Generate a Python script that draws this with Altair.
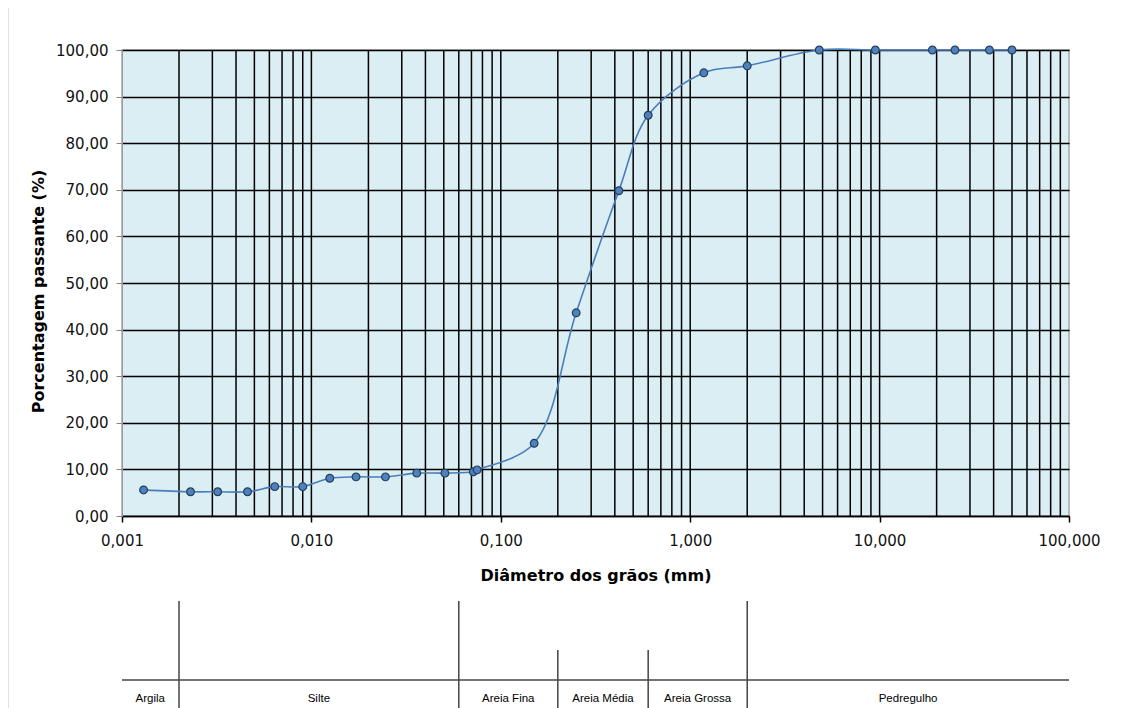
import altair as alt
import pandas as pd

# Grain size distribution data
diam = [0.0013, 0.0023, 0.0032, 0.0046, 0.0064, 0.0090, 0.0125, 0.0172, 0.0246,
        0.0360, 0.0507, 0.0716, 0.0750, 0.150, 0.250, 0.420, 0.600, 1.18, 2.00,
        4.80, 9.50, 19.0, 25.0, 38.0, 50.0]
passing = [5.6, 5.2, 5.2, 5.2, 6.3, 6.3, 8.1, 8.4, 8.4, 9.2, 9.2, 9.5, 9.9,
           15.6, 43.6, 69.8, 86.0, 95.1, 96.6, 100.0, 100.0, 100.0, 100.0, 100.0, 100.0]

# Log-grid positions
grid_x = [0.002, 0.003, 0.004, 0.005, 0.006, 0.007, 0.008, 0.009,
          0.01, 0.02, 0.03, 0.04, 0.05, 0.06, 0.07, 0.08, 0.09,
          0.1, 0.2, 0.3, 0.4, 0.5, 0.6, 0.7, 0.8, 0.9,
          1, 2, 3, 4, 5, 6, 7, 8, 9,
          10, 20, 30, 40, 50, 60, 70, 80, 90]
decades = [0.001, 0.01, 0.1, 1, 10, 100]
y_ticks = [0, 10, 20, 30, 40, 50, 60, 70, 80, 90, 100]

# Soil classification bar
class_major = [0.002, 0.06, 2.0]
class_minor = [0.2, 0.6]
class_names = ["Argila", "Silte", "Areia Fina", "Areia Média", "Areia Grossa", "Pedregulho"]
class_pos = [0.00141, 0.01095, 0.1095, 0.3464, 1.095, 14.14]

df = pd.DataFrame({"d": diam, "p": passing})
gdf = pd.DataFrame({"g": grid_x})
majdf = pd.DataFrame({"d": class_major})
mindf = pd.DataFrame({"d": class_minor})
labdf = pd.DataFrame({"d": class_pos, "name": class_names})
hdf = pd.DataFrame({"a": [0.001], "b": [100.0]})
bdf = pd.DataFrame({"k": [0]})

FONT = "DejaVu Sans"

xscale = alt.Scale(type="log", domain=[0.001, 100], nice=False)
yscale = alt.Scale(domain=[0, 100], nice=False)

xaxis = alt.Axis(
    values=decades, title="Diâmetro dos grãos (mm)",
    labelExpr="replace(format(datum.value, '.3f'), '.', ',')",
    labelFlush=False,
    grid=False, tickSize=6, tickColor="#000", tickWidth=1.5,
    domainColor="#000", domainWidth=1.5,
    labelPadding=11, labelFontSize=15, labelFont=FONT, labelColor="#111",
    titleFont=FONT, titleFontSize=16, titleFontWeight="bold", titlePadding=19,
    titleColor="#000",
)
yaxis = alt.Axis(
    values=y_ticks, title="Porcentagem passante (%)",
    labelExpr="replace(format(datum.value, '.2f'), '.', ',')",
    grid=True, gridColor="#000", gridWidth=1.5, gridOpacity=1,
    tickSize=6, tickColor="#888", domainColor="#999",
    labelPadding=8, labelFontSize=15, labelFont=FONT, labelColor="#111",
    titleFont=FONT, titleFontSize=16, titleFontWeight="bold", titlePadding=9,
    titleY=241, titleColor="#000",
)

grid = alt.Chart(gdf).mark_rule(color="#000", strokeWidth=1.5).encode(
    x=alt.X("g:Q", scale=xscale, axis=xaxis)
)

line = alt.Chart(df).mark_line(
    interpolate="catmull-rom", color="#4A7EBB", strokeWidth=1.6
).encode(
    x=alt.X("d:Q", scale=xscale, axis=xaxis),
    y=alt.Y("p:Q", scale=yscale, axis=yaxis),
)

points = alt.Chart(df).mark_point(
    filled=True, fill="#4F81BD", stroke="#24405F", strokeWidth=1.2, size=60, opacity=1
).encode(
    x=alt.X("d:Q", scale=xscale, axis=xaxis),
    y=alt.Y("p:Q", scale=yscale, axis=yaxis),
)

# Classification bar below the chart (pixel offsets relative to the plot area)
major_rules = alt.Chart(majdf).mark_rule(color="#444", strokeWidth=1.5).encode(
    x=alt.X("d:Q", scale=xscale, axis=xaxis),
    y=alt.value(551), y2=alt.value(680),
)
minor_rules = alt.Chart(mindf).mark_rule(color="#444", strokeWidth=1.5).encode(
    x=alt.X("d:Q", scale=xscale, axis=xaxis),
    y=alt.value(600), y2=alt.value(680),
)
h_rule = alt.Chart(hdf).mark_rule(color="#444", strokeWidth=1.5).encode(
    x=alt.X("a:Q", scale=xscale, axis=xaxis),
    x2="b:Q",
    y=alt.value(630),
)
labels = alt.Chart(labdf).mark_text(
    font="Liberation Sans", fontSize=11.5, color="#000", baseline="middle", align="center"
).encode(
    x=alt.X("d:Q", scale=xscale, axis=xaxis),
    y=alt.value(649),
    text="name:N",
)

# Light chart-area border (top and left edges)
border_top = alt.Chart(bdf).mark_rule(color="#D9D9D9", strokeWidth=1.5).encode(
    x=alt.value(-114), x2=alt.value(1010), y=alt.value(-43)
)
border_left = alt.Chart(bdf).mark_rule(color="#D9D9D9", strokeWidth=1.5).encode(
    x=alt.value(-114), y=alt.value(-43), y2=alt.value(660)
)

chart = alt.layer(
    border_top, border_left, grid, line, points,
    major_rules, minor_rules, h_rule, labels
).properties(
    width=947, height=466,
    autosize=alt.AutoSizeParams(type="none"),
    padding={"left": 114, "top": 42, "right": 56, "bottom": 192},
    background="white",
).configure_view(
    fill="#DAEEF3", stroke="#A6A6A6", strokeWidth=1.5
)

chart.save("out.html", embed_options={"renderer": "svg", "actions": False})
